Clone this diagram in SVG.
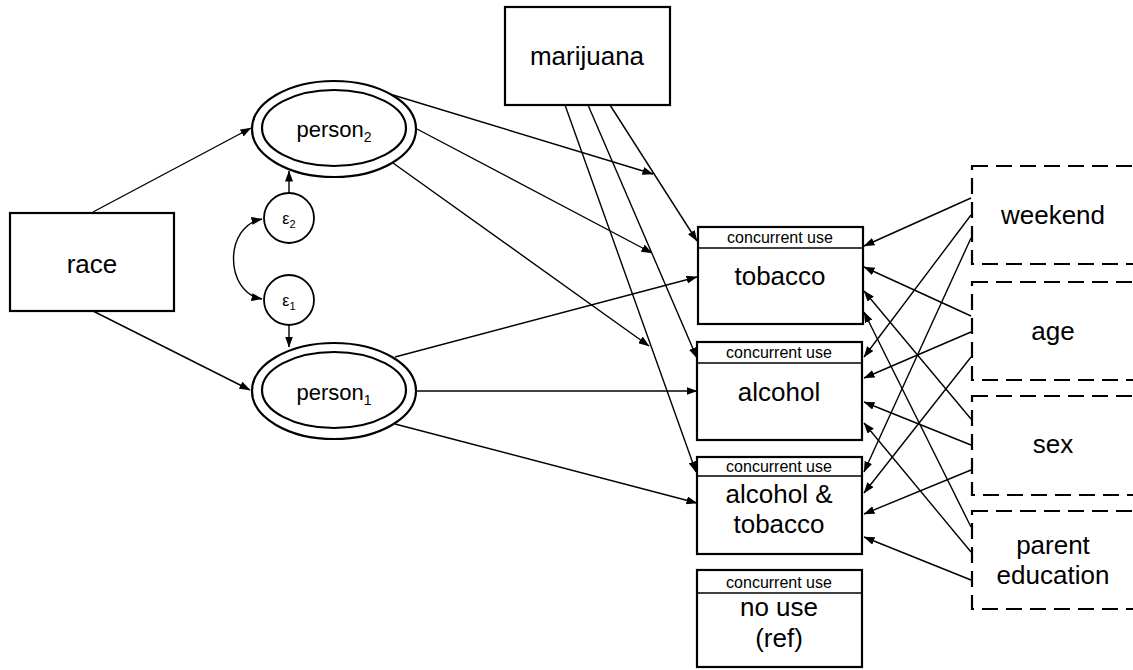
<svg xmlns="http://www.w3.org/2000/svg" width="1133" height="670" viewBox="0 0 1133 670">
<style>
.box{fill:#fff;stroke:#000;stroke-width:2.2}
.dash{fill:none;stroke:#000;stroke-width:2.2;stroke-dasharray:16 8}
.ell{fill:#fff;stroke:#000;stroke-width:2.2}
.cir{fill:#fff;stroke:#000;stroke-width:1.8}
.big{font-family:"Liberation Sans",Arial,sans-serif;font-size:26px;text-anchor:middle;fill:#000}
.hdr{font-family:"Liberation Sans",Arial,sans-serif;font-size:16px;text-anchor:middle;fill:#000}
.lat{font-family:"Liberation Sans",Arial,sans-serif;font-size:22px;text-anchor:middle;fill:#000}
.eps{font-family:"Liberation Sans",Arial,sans-serif;font-size:16px;text-anchor:middle;fill:#000}
.ln{fill:none;stroke:#000;stroke-width:1.4;marker-end:url(#ah)}
</style>
<defs>
<marker id="ah" markerUnits="userSpaceOnUse" markerWidth="11" markerHeight="8" refX="10.5" refY="4" orient="auto-start-reverse" viewBox="0 0 11 8">
<path d="M0,0 L11,4 L0,8 z" fill="#000"/>
</marker>
</defs>
<rect width="1133" height="670" fill="#fff"/>

<g id="connectors">
<path class="ln" d="M93,212 L251,128"/>
<path class="ln" d="M93,311 L250,390"/>
<path class="ln" d="M289,193 L289,171"/>
<path class="ln" d="M289,325 L289,347"/>
<path class="ln" style="marker-start:url(#ah)" d="M262,219 C224,226 224,292 262,299"/>
<path class="ln" d="M610,105 L697,241"/>
<path class="ln" d="M588,105 L697,358"/>
<path class="ln" d="M565,105 L696,472"/>
<path class="ln" d="M393,95 L653,174"/>
<path class="ln" d="M417,129 L652,253"/>
<path class="ln" d="M393,163 L649,346"/>
<path class="ln" d="M395,357 L697,277"/>
<path class="ln" d="M416,391 L697,391"/>
<path class="ln" d="M395,424 L697,503"/>
<path class="ln" d="M971,198 L864,246"/>
<path class="ln" d="M971,215 L864,357"/>
<path class="ln" d="M971,238 L864,472"/>
<path class="ln" d="M971,316 L864,267"/>
<path class="ln" d="M971,332 L864,378"/>
<path class="ln" d="M971,357 L864,493"/>
<path class="ln" d="M971,419 L864,291"/>
<path class="ln" d="M971,445 L864,402"/>
<path class="ln" d="M971,470 L864,514"/>
<path class="ln" d="M971,527 L864,312"/>
<path class="ln" d="M971,552 L864,423"/>
<path class="ln" d="M971,580 L864,537"/>
</g>

<g id="race">
<rect class="box" x="10" y="213" width="164" height="98"/>
<text class="big" x="92" y="273">race</text>
</g>

<g id="marijuana">
<rect class="box" x="505" y="7" width="165" height="98"/>
<text class="big" x="587" y="65">marijuana</text>
</g>

<g id="person2">
<ellipse class="ell" cx="334" cy="129" rx="82" ry="48"/>
<ellipse class="ell" cx="334" cy="128" rx="72" ry="38"/>
<text class="lat" x="334" y="137">person<tspan font-size="14" dy="5">2</tspan></text>
</g>

<g id="person1">
<ellipse class="ell" cx="334" cy="391" rx="82" ry="48"/>
<ellipse class="ell" cx="334" cy="390" rx="72" ry="38"/>
<text class="lat" x="334" y="400">person<tspan font-size="14" dy="5">1</tspan></text>
</g>

<g id="eps2">
<circle class="cir" cx="289" cy="218" r="25"/>
<text class="eps" x="289" y="224">ε<tspan font-size="11" dy="4">2</tspan></text>
</g>

<g id="eps1">
<circle class="cir" cx="289" cy="300" r="25"/>
<text class="eps" x="289" y="306">ε<tspan font-size="11" dy="4">1</tspan></text>
</g>

<g id="tobacco">
<rect class="box" x="698" y="227" width="165" height="97"/>
<line x1="698" y1="248" x2="863" y2="248" stroke="#000" stroke-width="1.5"/>
<text class="hdr" x="780" y="243">concurrent use</text>
<text class="big" x="780" y="285">tobacco</text>
</g>

<g id="alcohol">
<rect class="box" x="697" y="342" width="165" height="98"/>
<line x1="697" y1="363" x2="862" y2="363" stroke="#000" stroke-width="1.5"/>
<text class="hdr" x="779" y="358">concurrent use</text>
<text class="big" x="779" y="401">alcohol</text>
</g>

<g id="alcohol_tobacco">
<rect class="box" x="697" y="457" width="165" height="97"/>
<line x1="697" y1="476" x2="862" y2="476" stroke="#000" stroke-width="1.5"/>
<text class="hdr" x="779" y="472">concurrent use</text>
<text class="big" x="779" y="503">alcohol &amp;</text>
<text class="big" x="779" y="533">tobacco</text>
</g>

<g id="no_use">
<rect class="box" x="697" y="570" width="165" height="97"/>
<line x1="697" y1="593" x2="862" y2="593" stroke="#000" stroke-width="1.5"/>
<text class="hdr" x="779" y="588">concurrent use</text>
<text class="big" x="779" y="616">no use</text>
<text class="big" x="779" y="647">(ref)</text>
</g>

<g id="weekend">
<rect class="dash" x="972" y="166" width="168" height="98"/>
<text class="big" x="1053" y="224">weekend</text>
</g>

<g id="age">
<rect class="dash" x="972" y="282" width="168" height="98"/>
<text class="big" x="1053" y="340">age</text>
</g>

<g id="sex">
<rect class="dash" x="972" y="396" width="168" height="99"/>
<text class="big" x="1053" y="453">sex</text>
</g>

<g id="parent_education">
<rect class="dash" x="972" y="511" width="168" height="98"/>
<text class="big" x="1053" y="554">parent</text>
<text class="big" x="1053" y="584">education</text>
</g>
</svg>
